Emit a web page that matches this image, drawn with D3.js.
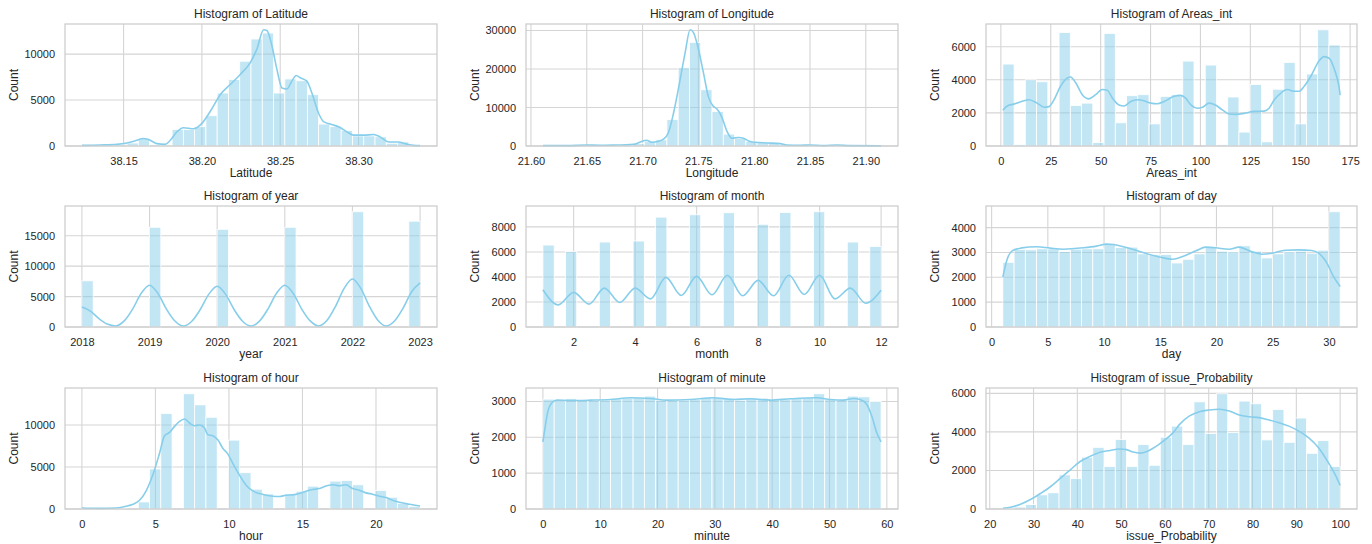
<!DOCTYPE html>
<html><head><meta charset="utf-8">
<script src="https://cdn.jsdelivr.net/npm/d3@7"></script>
<style>
body{margin:0;background:#fff}
svg{display:block}
text{font-family:"Liberation Sans",Arial,sans-serif;fill:#262626}
</style>
</head><body>
<svg id="chart" width="1372" height="544"></svg>
<script>
// ---------- DATA ----------
const titles = ["Histogram of Latitude","Histogram of Longitude","Histogram of Areas_int",
  "Histogram of year","Histogram of month","Histogram of day",
  "Histogram of hour","Histogram of minute","Histogram of issue_Probability"];
const xLabels = ["Latitude","Longitude","Areas_int","year","month","day","hour","minute","issue_Probability"];

// data range (min, max) of each variable -> 30 equal bins
const latRange = [38.1234, 38.3393];
const lonRange = [21.6107, 21.9137];
const areaRange = [1, 170];
const yearRange = [2018, 2023];
const monthRange = [1, 12];
const dayRange = [1, 31];
const hourRange = [0, 23];
const minuteRange = [0, 59];
const probRange = [23, 100];

// bar counts (30 bins each)
const latCounts = [20,30,60,200,330,800,150,120,1800,1800,2100,3300,5770,7240,9230,11650,12300,5770,7300,7100,5590,2390,2100,1690,1100,1100,1000,300,440,100];
const lonCounts = [60,80,100,150,150,200,200,150,600,1250,1600,6860,20320,26910,14600,8970,3080,1935,1200,900,800,400,200,150,200,150,150,200,150,100];
const areaCounts = [4950,80,4000,3880,0,6860,2440,2590,205,6800,1400,3040,3100,1335,3000,3100,5130,0,4890,80,2960,840,3720,250,3430,5050,1335,4350,7020,6100];
const yearCounts = [7590,0,0,0,0,0,16390,0,0,0,0,0,16060,0,0,0,0,0,16390,0,0,0,0,0,18940,0,0,0,0,17390];
const monthCounts = [6550,0,6040,0,0,6790,0,0,6870,0,8780,0,0,8970,0,0,9130,0,0,8210,0,9150,0,0,9210,0,0,6790,0,6440];
const dayCounts = [2604,3119,3105,3146,3146,3037,3132,3146,3146,3363,3200,3214,2943,2902,2915,2577,2726,2943,3227,3051,3024,3268,3051,2780,2943,3024,3051,2970,3092,4638];
const hourCounts = [50,30,30,80,0,840,4760,11360,0,13720,12400,10920,0,8200,4320,2360,1800,0,1800,2120,2720,0,3320,3400,2880,0,2200,1400,680,320];
const minuteCounts = [3065,3018,3083,3027,3027,3036,3074,3093,3102,3149,3036,3027,3036,3055,3111,3111,3093,3036,3102,3093,3046,3065,3093,3102,3215,3065,3036,3149,3130,2999];
const probCounts = [30,100,230,735,840,1770,1575,2690,3200,2200,3600,2200,3340,2270,3725,4300,3340,5560,3920,5980,3970,5600,5460,3585,5160,3460,4720,2890,3550,2200];

// KDE curves (x positions and density scaled to counts)
const latKdeX = [38.1234,38.1351,38.1457,38.1521,38.1585,38.1623,38.1660,38.1713,38.1766,38.1798,38.1840,38.1883,38.1947,38.2000,38.2053,38.2117,38.2181,38.2245,38.2309,38.2351,38.2394,38.2415,38.2447,38.2479,38.2511,38.2543,38.2574,38.2602,38.2628,38.2670,38.2702,38.2745,38.2777,38.2819,38.2883,38.2926,38.2968,38.3032,38.3096,38.3138,38.3191,38.3255,38.3298,38.3351,38.3393];
const latKdeY = [70,110,180,330,620,810,700,260,180,620,1540,1990,1870,2460,3750,5590,6690,7790,9080,10550,12650,12570,10920,8340,6320,6210,7060,7680,7430,7060,5770,3570,2650,2390,2020,1540,1180,1180,1250,990,440,440,260,70,40];
const lonKdeX = [21.6107,21.6320,21.6500,21.6619,21.6768,21.6888,21.6948,21.7002,21.7037,21.7082,21.7142,21.7187,21.7232,21.7276,21.7336,21.7381,21.7426,21.7456,21.7501,21.7546,21.7590,21.7635,21.7665,21.7710,21.7754,21.7799,21.7859,21.7904,21.7949,21.8009,21.8113,21.8233,21.8293,21.8412,21.8502,21.8622,21.8741,21.8861,21.9137];
const lonKdeY = [90,90,260,180,260,350,620,1320,1500,970,1230,1760,3520,8360,17150,24190,30170,29460,25070,18910,12750,10290,9670,7480,3960,2020,2200,2020,1320,970,790,620,260,180,260,90,260,90,20];
const areaKdeX = [1,3.2,6.5,11.5,14,18.2,21.6,24.1,26.6,29.9,33.3,34.9,37.5,40.8,44.1,47.5,50.8,53.3,55.9,59.2,61.7,65.1,68.4,71.7,75.1,78.4,81.8,86.8,90.1,92.6,95.2,98.5,101,104.3,107.7,111,114.4,117.7,121.9,126.9,131.9,134.4,137,140.3,143.6,147,149.5,152,155.4,159.5,162,164.5,167.1,169.2,170];
const areaKdeY = [2160,2420,2530,2730,2790,2590,2340,2380,2790,3610,4110,4170,3820,3100,2850,3100,3410,3370,2890,2480,2420,2690,2790,2730,2590,2550,2690,3000,3060,2890,2480,2280,2340,2590,2460,2180,1930,1910,1970,2090,2110,2280,2790,3200,3410,3310,3310,3610,4230,5150,5400,5300,4640,3720,3080];
const yearKdeX = [2018,2018.125,2018.25,2018.375,2018.5,2018.625,2018.75,2018.875,2019,2019.125,2019.25,2019.375,2019.5,2019.625,2019.75,2019.875,2020,2020.125,2020.25,2020.375,2020.5,2020.625,2020.75,2020.875,2021,2021.125,2021.25,2021.375,2021.5,2021.625,2021.75,2021.875,2022,2022.125,2022.25,2022.375,2022.5,2022.625,2022.75,2022.875,2023];
const yearKdeY = [3270,2620,1400,480,170,1000,2950,5500,6870,5500,2950,980,150,940,2880,5360,6700,5360,2880,950,150,960,2950,5500,6870,5500,2950,1000,170,1100,3400,6320,7900,6320,3400,1120,170,1030,3120,5800,7250];
const monthKdeX = [1,1.5,2,2.5,3,3.5,4,4.5,5,5.5,6,6.5,7,7.5,8,8.5,9,9.5,10,10.5,11,11.5,12];
const monthKdeY = [2980,1770,2770,1830,3110,1960,3110,2250,3970,2520,4050,2580,4130,2500,3730,2500,4130,2600,4130,2250,3110,1900,2930];
const dayKdeX = [1,1.38,1.82,2.56,4.03,5.21,6.39,8.16,9.33,10.22,10.81,11.98,13.46,14.93,16.11,17,18.17,19.05,19.93,21.11,22,23.17,24.06,24.94,26.12,27.3,28.47,29.21,29.8,30.39,31];
const dayKdeY = [2007,2726,3065,3173,3227,3173,3132,3187,3254,3336,3322,3200,2997,2820,2726,2834,3065,3214,3187,3132,3214,3024,2929,2970,3092,3105,3078,2929,2590,2048,1627];
const hourKdeX = [0,1.2,2.33,3.01,3.47,3.92,4.37,4.82,5.28,5.62,5.96,6.3,6.64,6.98,7.32,7.66,8,8.34,8.56,8.9,9.24,9.58,9.92,10.26,10.71,11.17,11.62,12.07,12.53,12.98,13.43,13.88,14.34,14.79,15.24,15.7,16.15,16.72,17.06,17.51,17.96,18.41,18.87,19.32,19.77,20.23,20.68,21.13,21.59,22.26,23];
const hourKdeY = [120,80,120,320,560,1040,2160,4040,6640,8720,9120,9840,10440,10720,10240,9920,10000,9640,8840,8720,8240,7240,6560,5440,4040,2840,2160,1840,1640,1520,1480,1640,1680,1840,2120,2320,2440,2800,2880,2760,2880,2440,2240,1920,1760,1520,1360,1040,800,560,360];
const minuteKdeX = [0,0.41,0.81,1.57,2.44,4.77,8.26,11.74,15.23,18.72,21.63,25.7,29.77,33.26,36.16,39.65,43.14,47.79,50.12,52.44,54.19,55.35,56.51,57.38,58.26,59];
const minuteKdeY = [1874,2306,2680,2962,3037,3027,3037,3055,3102,3083,3037,3055,3102,3055,3074,3037,3074,3102,3055,3037,3083,3055,2915,2587,2118,1874];
const probKdeX = [23,24.77,27.03,29.3,31.57,33.84,36.11,38.38,40.65,42.92,45.19,47.46,49.73,51.24,52.75,54.27,55.78,57.29,59.56,61.83,63.34,65.61,67.88,70.15,72.42,74.69,76.96,79.23,81.5,83.77,86.04,88.31,90.58,92.84,95.11,97.38,98.9,100];
const probKdeY = [35,87,245,490,805,1155,1590,2030,2466,2730,2940,3040,3110,3080,2955,2900,2970,3150,3515,3950,4390,4830,5050,5140,5180,5090,4880,4790,4740,4620,4480,4300,4040,3690,3170,2380,1770,1225];

// tick values
const latXTicks = [38.15,38.20,38.25,38.30];
const lonXTicks = [21.60,21.65,21.70,21.75,21.80,21.85,21.90];
const areaXTicks = [0,25,50,75,100,125,150,175];
const yearXTicks = [2018,2019,2020,2021,2022,2023];
const monthXTicks = [2,4,6,8,10,12];
const dayXTicks = [0,5,10,15,20,25,30];
const hourXTicks = [0,5,10,15,20];
const minuteXTicks = [0,10,20,30,40,50,60];
const probXTicks = [20,30,40,50,60,70,80,90,100];

const latYTicks = [0,5000,10000];
const lonYTicks = [0,10000,20000,30000];
const areaYTicks = [0,2000,4000,6000];
const yearYTicks = [0,5000,10000,15000];
const monthYTicks = [0,2000,4000,6000,8000];
const dayYTicks = [0,1000,2000,3000,4000];
const hourYTicks = [0,5000,10000];
const minuteYTicks = [0,1000,2000,3000];
const probYTicks = [0,2000,4000,6000];

// ---------- BUILD ----------
const f2 = d3.format(".2f"), fd = d3.format("d");
const panels = [
  {range:latRange, counts:latCounts, kx:latKdeX, ky:latKdeY, xt:latXTicks, yt:latYTicks, xf:f2},
  {range:lonRange, counts:lonCounts, kx:lonKdeX, ky:lonKdeY, xt:lonXTicks, yt:lonYTicks, xf:f2},
  {range:areaRange, counts:areaCounts, kx:areaKdeX, ky:areaKdeY, xt:areaXTicks, yt:areaYTicks, xf:fd},
  {range:yearRange, counts:yearCounts, kx:yearKdeX, ky:yearKdeY, xt:yearXTicks, yt:yearYTicks, xf:fd},
  {range:monthRange, counts:monthCounts, kx:monthKdeX, ky:monthKdeY, xt:monthXTicks, yt:monthYTicks, xf:fd},
  {range:dayRange, counts:dayCounts, kx:dayKdeX, ky:dayKdeY, xt:dayXTicks, yt:dayYTicks, xf:fd},
  {range:hourRange, counts:hourCounts, kx:hourKdeX, ky:hourKdeY, xt:hourXTicks, yt:hourYTicks, xf:fd},
  {range:minuteRange, counts:minuteCounts, kx:minuteKdeX, ky:minuteKdeY, xt:minuteXTicks, yt:minuteYTicks, xf:fd},
  {range:probRange, counts:probCounts, kx:probKdeX, ky:probKdeY, xt:probXTicks, yt:probYTicks, xf:fd}
];

const colL = [65, 526, 986], colR = [437, 898, 1357];
const rowT = [24, 206, 388], rowB = [146, 327, 509];
const barFill = "rgba(135,206,235,0.5)";
const lineCol = "#87ceeb";
const gridCol = "#d5d5d5";
const edgeCol = "#cccccc";

const svg = d3.select("#chart");

panels.forEach((p, i) => {
  const c = i % 3, r = Math.floor(i / 3);
  const L = colL[c], R = colR[c], T = rowT[r], B = rowB[r];
  const [a, b] = p.range, s = b - a;
  const x = d3.scaleLinear().domain([a - 0.05 * s, b + 0.05 * s]).range([L, R]);
  const ymax = Math.max(d3.max(p.counts), d3.max(p.ky)) * 1.05;
  const y = d3.scaleLinear().domain([0, ymax]).range([B, T]);
  const g = svg.append("g");

  // grid
  g.append("g").selectAll("line").data(p.xt).join("line")
    .attr("x1", d => x(d)).attr("x2", d => x(d)).attr("y1", T).attr("y2", B)
    .attr("stroke", gridCol).attr("stroke-width", 1.1);
  g.append("g").selectAll("line").data(p.yt).join("line")
    .attr("x1", L).attr("x2", R).attr("y1", d => y(d)).attr("y2", d => y(d))
    .attr("stroke", gridCol).attr("stroke-width", 1.1);

  // bars
  const w = s / 30;
  g.append("g").selectAll("rect").data(p.counts).join("rect")
    .attr("x", (d, k) => x(a + k * w))
    .attr("width", (d, k) => x(a + (k + 1) * w) - x(a + k * w))
    .attr("y", d => y(d))
    .attr("height", d => y(0) - y(d))
    .attr("fill", barFill)
    .attr("stroke", d => d > 0 ? "#ffffff" : "none")
    .attr("stroke-width", 0.8);

  // KDE
  const pts = p.kx.map((v, k) => [v, p.ky[k]]);
  g.append("path").datum(pts)
    .attr("d", d3.line().x(d => x(d[0])).y(d => y(d[1])).curve(d3.curveMonotoneX))
    .attr("fill", "none").attr("stroke", lineCol).attr("stroke-width", 1.6);

  // spines
  g.append("rect").attr("x", L).attr("y", T).attr("width", R - L).attr("height", B - T)
    .attr("fill", "none").attr("stroke", edgeCol).attr("stroke-width", 1.25);

  // axes
  const ax = g.append("g").attr("transform", `translate(0,${B})`)
    .call(d3.axisBottom(x).tickValues(p.xt).tickFormat(p.xf).tickSize(0).tickPadding(11));
  ax.select(".domain").remove();
  ax.selectAll("text").attr("font-size", 11).attr("font-family", null).style("fill", "#262626");
  const ay = g.append("g").attr("transform", `translate(${L},0)`)
    .call(d3.axisLeft(y).tickValues(p.yt).tickFormat(fd).tickSize(0).tickPadding(10));
  ay.select(".domain").remove();
  ay.selectAll("text").attr("font-size", 11).attr("font-family", null).style("fill", "#262626");

  // labels
  g.append("text").attr("x", (L + R) / 2).attr("y", T - 6)
    .attr("text-anchor", "middle").attr("font-size", 12).text(titles[i]);
  g.append("text").attr("x", (L + R) / 2).attr("y", B + 31)
    .attr("text-anchor", "middle").attr("font-size", 12).text(xLabels[i]);
  g.append("text").attr("transform", `translate(${L - 47},${(T + B) / 2}) rotate(-90)`)
    .attr("text-anchor", "middle").attr("font-size", 12).text("Count");
});
</script>
</body></html>
